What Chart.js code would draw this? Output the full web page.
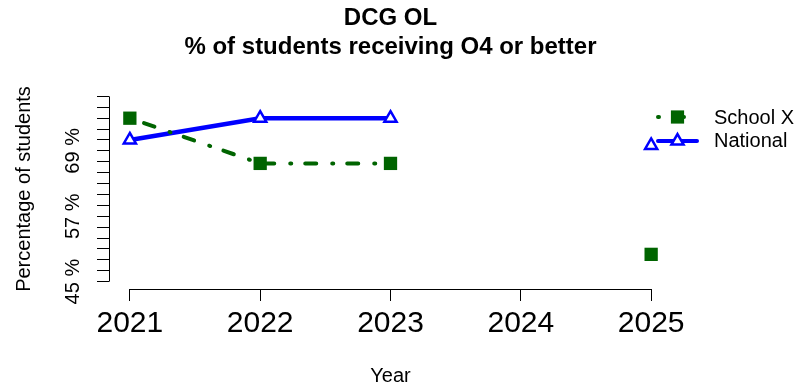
<!DOCTYPE html>
<html>
<head>
<meta charset="utf-8">
<script src="https://cdn.jsdelivr.net/npm/chart.js@4/dist/chart.umd.min.js"></script>
<style>
html,body{margin:0;padding:0;background:#fff}
</style>
</head>
<body>
<canvas id="chart" width="799" height="389"></canvas>
<script>
const years=[2021,2022,2023,2024,2025]
const schoolX=[75,66.7,66.7,null,50]
const national=[71,75,75,null,70]
const yTicks=[45,47,49,51,53,55,57,59,61,63,65,67,69,71,73,75,77,79]
const yLabels=[45,57,69]
const seriesNames=["School X","National"]
const titleLines=["DCG OL","% of students receiving O4 or better"]

const green="#006400"
const blue="#0000ff"
const dotDash=[1,14,11,16]
const font="'Liberation Sans', Arial, Helvetica, sans-serif"

Chart.defaults.font.family=font
Chart.defaults.color="#000"

// R style title, axes, tick labels and legend
const rAxes={
id:"rAxes",
afterDraw(chart){
const ctx=chart.ctx
const xs=chart.scales.x
const ys=chart.scales.y
const area=chart.chartArea
ctx.save()

// title, centred over the plot region like R does
ctx.fillStyle="#000"
ctx.font="bold 24px "+font
ctx.textAlign="center"
ctx.textBaseline="middle"
let cx=(area.left+area.right)/2
ctx.fillText(titleLines[0],cx,18)
ctx.fillText(titleLines[1],cx,47)

ctx.strokeStyle="#000"
ctx.lineWidth=1

// y axis line, only over the tick range
let x0=Math.round(area.left)+0.5
ctx.beginPath()
ctx.moveTo(x0,ys.getPixelForValue(yTicks[0]))
ctx.lineTo(x0,ys.getPixelForValue(yTicks[yTicks.length-1]))
ctx.stroke()

// x axis line
let y0=Math.round(area.bottom)+0.5
ctx.beginPath()
ctx.moveTo(xs.getPixelForValue(years[0]),y0)
ctx.lineTo(xs.getPixelForValue(years[years.length-1]),y0)
ctx.stroke()

// rotated y tick labels
ctx.font="20px "+font
yLabels.forEach(v=>{
ctx.save()
ctx.translate(73,ys.getPixelForValue(v))
ctx.rotate(-Math.PI/2)
ctx.fillText(v+" %",0,0)
ctx.restore()
})

// legend
const lx1=658,lx2=697,lxm=(lx1+lx2)/2
const rows=[117,141]
ctx.textAlign="left"
ctx.fillText(seriesNames[0],714,rows[0]+1)
ctx.fillText(seriesNames[1],714,rows[1])

ctx.lineCap="round"
ctx.lineWidth=4
ctx.strokeStyle=green
ctx.setLineDash(dotDash)
ctx.beginPath()
ctx.moveTo(lx1,rows[0])
ctx.lineTo(lx2,rows[0])
ctx.stroke()
ctx.setLineDash([])
ctx.fillStyle=green
ctx.fillRect(lxm-6.6,rows[0]-6.6,13.2,13.2)

ctx.strokeStyle=blue
ctx.beginPath()
ctx.moveTo(lx1,rows[1])
ctx.lineTo(lx2,rows[1])
ctx.stroke()
const r=7
ctx.lineWidth=2.5
ctx.lineCap="butt"
ctx.beginPath()
ctx.moveTo(lxm,rows[1]-r)
ctx.lineTo(lxm+r*Math.sin(2*Math.PI/3),rows[1]+r/2)
ctx.lineTo(lxm-r*Math.sin(2*Math.PI/3),rows[1]+r/2)
ctx.closePath()
ctx.fillStyle="#fff"
ctx.fill()
ctx.stroke()

ctx.restore()
}
}

new Chart(document.getElementById("chart"),{
type:"line",
data:{
datasets:[{
label:seriesNames[0],
data:years.map((y,i)=>({x:y,y:schoolX[i]})),
borderColor:green,
backgroundColor:green,
borderWidth:4,
borderDash:dotDash,
borderCapStyle:"round",
pointStyle:"rect",
pointRadius:9.4,
pointBorderWidth:0,
pointBackgroundColor:green,
spanGaps:false
},{
label:seriesNames[1],
data:years.map((y,i)=>({x:y,y:national[i]})),
borderColor:blue,
backgroundColor:"#fff",
borderWidth:4.5,
pointStyle:"triangle",
pointRadius:7,
pointBorderWidth:2.5,
pointBorderColor:blue,
pointBackgroundColor:"#fff",
spanGaps:false
}]
},
options:{
responsive:false,
devicePixelRatio:1,
animation:false,
clip:false,
layout:{padding:{left:0,right:127,top:89,bottom:0}},
plugins:{
legend:{display:false},
tooltip:{enabled:false},
title:{display:false}
},
scales:{
x:{
type:"linear",
min:years[0]-0.16,
max:years[years.length-1]+0.16,
afterBuildTicks:s=>{s.ticks=years.map(v=>({value:v}))},
afterFit:s=>{s.height=100},
ticks:{
callback:v=>String(v),
font:{size:30},
padding:5,
maxRotation:0,
autoSkip:false
},
grid:{drawOnChartArea:false,drawTicks:true,tickLength:12,color:"#000",lineWidth:1},
border:{display:false},
title:{display:true,text:"Year",font:{size:20},padding:{top:0,bottom:1}}
},
y:{
type:"linear",
min:yTicks[0]-1.36,
max:yTicks[yTicks.length-1]+1.36,
afterBuildTicks:s=>{s.ticks=yTicks.map(v=>({value:v}))},
afterFit:s=>{s.width=109},
ticks:{display:false},
grid:{drawOnChartArea:false,drawTicks:true,tickLength:12,color:"#000",lineWidth:1},
border:{display:false},
title:{display:true,text:"Percentage of students",font:{size:20},padding:{top:12,bottom:0}}
}
}
},
plugins:[rAxes]
})
</script>
</body>
</html>
